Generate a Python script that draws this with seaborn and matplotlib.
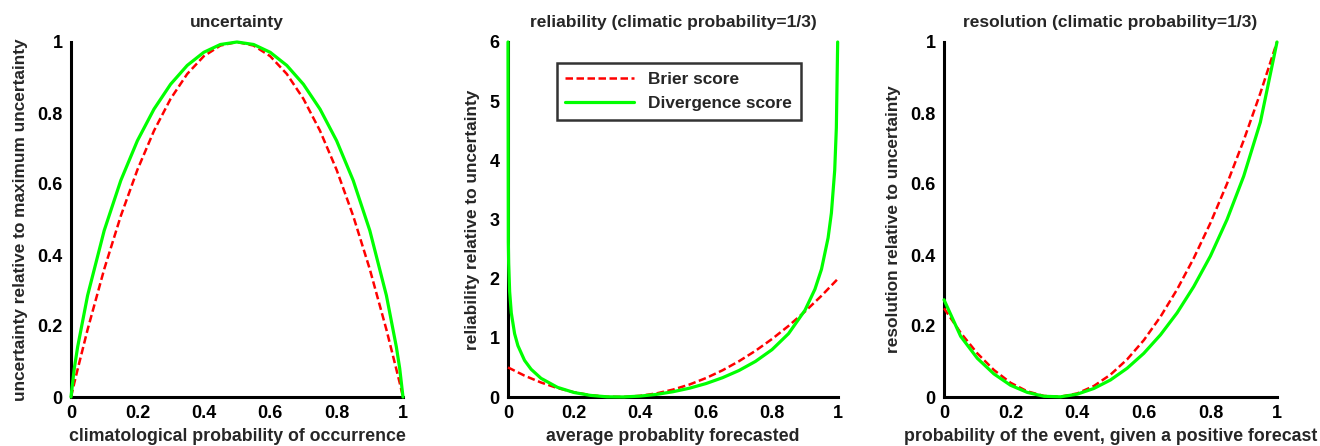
import numpy as np
import pandas as pd
import matplotlib
matplotlib.use('Agg')
import matplotlib.pyplot as plt
import seaborn as sns

# --- values ---
# panel 1: uncertainty
unc_x = [0, 0.01, 0.02, 0.05, 0.1, 0.15, 0.2, 0.25, 0.3, 0.35, 0.4, 0.45, 0.5,
         0.55, 0.6, 0.65, 0.7, 0.75, 0.8, 0.85, 0.9, 0.95, 0.98, 0.99, 1]
unc_brier = [0, 0.04, 0.078, 0.19, 0.36, 0.51, 0.64, 0.75, 0.84, 0.91, 0.96, 0.99, 1,
             0.99, 0.96, 0.91, 0.84, 0.75, 0.64, 0.51, 0.36, 0.19, 0.078, 0.04, 0]
unc_div = [0, 0.081, 0.141, 0.286, 0.469, 0.610, 0.722, 0.811, 0.881, 0.934, 0.971, 0.993, 1,
           0.993, 0.971, 0.934, 0.881, 0.811, 0.722, 0.610, 0.469, 0.286, 0.141, 0.081, 0]

# panel 2: reliability (climatic probability = 1/3)
rel_x_brier = [0, 0.05, 0.1, 0.15, 0.2, 0.25, 0.3, 0.35, 0.4, 0.45, 0.5,
               0.55, 0.6, 0.65, 0.7, 0.75, 0.8, 0.85, 0.9, 0.95, 1]
rel_brier = [0.5, 0.361, 0.245, 0.151, 0.08, 0.031, 0.005, 0.001, 0.02, 0.061, 0.125,
             0.211, 0.32, 0.451, 0.605, 0.781, 0.98, 1.201, 1.445, 1.711, 2.0]
rel_x_div = [0, 0.001, 0.002, 0.005, 0.01, 0.02, 0.03, 0.05, 0.07, 0.1, 0.15, 0.2, 0.25,
             0.3, 0.35, 0.4, 0.45, 0.5, 0.55, 0.6, 0.65, 0.7, 0.75, 0.8, 0.85, 0.9,
             0.93, 0.95, 0.97, 0.98, 0.99, 0.995, 0.999]
rel_div = [6.0, 2.62, 2.26, 1.78, 1.42, 1.07, 0.868, 0.62, 0.469, 0.316, 0.163, 0.076, 0.027,
           0.003, 0.001, 0.015, 0.044, 0.089, 0.149, 0.227, 0.326, 0.448, 0.602, 0.80, 1.07, 1.467,
           1.82, 2.16, 2.69, 3.11, 3.83, 4.55, 6.0]

# panel 3: resolution (climatic probability = 1/3)
res_x = [0, 0.05, 0.1, 0.15, 0.2, 0.25, 0.3, 0.35, 0.4, 0.45, 0.5,
         0.55, 0.6, 0.65, 0.7, 0.75, 0.8, 0.85, 0.9, 0.95, 1]
res_brier = [0.25, 0.181, 0.123, 0.076, 0.04, 0.016, 0.003, 0.001, 0.01, 0.031, 0.063,
             0.106, 0.16, 0.226, 0.303, 0.391, 0.49, 0.601, 0.723, 0.856, 1.0]
res_div = [0.274, 0.171, 0.109, 0.065, 0.033, 0.013, 0.002, 0.0005, 0.008, 0.024, 0.048,
           0.081, 0.123, 0.175, 0.237, 0.311, 0.397, 0.500, 0.622, 0.774, 1.0]

titles = ['uncertainty', 'reliability (climatic probability=1/3)',
          'resolution (climatic probability=1/3)']
xlabels = ['climatological probability of occurrence', 'average probablity forecasted',
           'probability of the event, given a positive forecast']
ylabels = ['uncertainty relative to maximum uncertainty', 'reliability relative to uncertainty',
           'resolution relative to uncertainty']
prob_ticks = [0, 0.2, 0.4, 0.6, 0.8, 1]
prob_labels = ['0', '0.2', '0.4', '0.6', '0.8', '1']
rel_ticks = [0, 1, 2, 3, 4, 5, 6]
rel_labels = ['0', '1', '2', '3', '4', '5', '6']
legend_labels = ['Brier score', 'Divergence score']

sns.set_style('white')
plt.rcParams['font.family'] = ['Liberation Sans', 'DejaVu Sans']
plt.rcParams['font.weight'] = 'bold'
plt.rcParams['axes.labelweight'] = 'bold'
plt.rcParams['axes.titleweight'] = 'bold'

fig = plt.figure(figsize=(13.2, 4.46), dpi=100)
lefts = [71 / 1320, 508 / 1320, 944 / 1320]
widths = [332 / 1320, 330 / 1320, 333 / 1320]
bottom = 1 - 397 / 446
height = (397 - 42) / 446
axes = [fig.add_axes([l, bottom, w, height]) for l, w in zip(lefts, widths)]

red_kw = dict(color='#ff0000', linewidth=1.8, dashes=(3, 1.4), zorder=3)
green_kw = dict(color='#00ff00', linewidth=2.3, zorder=4)

data = [
    (unc_x, unc_brier, unc_x, unc_div),
    (rel_x_brier, rel_brier, rel_x_div, rel_div),
    (res_x, res_brier, res_x, res_div),
]

for i, ax in enumerate(axes):
    xb, yb, xd, yd = data[i]
    sns.lineplot(x=xb, y=yb, ax=ax, sort=False, estimator=None, label=legend_labels[0], **red_kw)
    sns.lineplot(x=xd, y=yd, ax=ax, sort=False, estimator=None, label=legend_labels[1], **green_kw)
    for ln in ax.lines:
        ln.set_clip_on(False)
    ax.set_xlim(0, 1)
    ax.set_xticks(prob_ticks)
    ax.set_xticklabels(prob_labels)
    if i == 1:
        ax.set_ylim(0, 6)
        ax.set_yticks(rel_ticks)
        ax.set_yticklabels(rel_labels)
    else:
        ax.set_ylim(0, 1)
        ax.set_yticks(prob_ticks)
        ax.set_yticklabels(prob_labels)
    ax.set_title(titles[i], fontsize=12.5, pad=11)
    ax.set_xlabel(xlabels[i], fontsize=12.8, labelpad=4)
    ax.set_ylabel(ylabels[i], fontsize=12.4, labelpad=7)
    for s in ['top', 'right']:
        ax.spines[s].set_visible(False)
    for s in ['left', 'bottom']:
        ax.spines[s].set_linewidth(2.2)
        ax.spines[s].set_color('black')
        ax.spines[s].set_zorder(2)
    ax.tick_params(direction='in', length=4, width=2, labelsize=13, colors='black', pad=6)
    for lbl in ax.get_xticklabels() + ax.get_yticklabels():
        lbl.set_fontweight('bold')
    if i == 1:
        leg = ax.legend(loc='upper left', bbox_to_anchor=(0.148, 0.94), fontsize=12.4,
                        handlelength=4.0, frameon=True, fancybox=False, borderpad=0.5,
                        labelspacing=0.55, borderaxespad=0)
        leg.get_frame().set_edgecolor('black')
        leg.get_frame().set_linewidth(1.8)
        for t in leg.get_texts():
            t.set_fontweight('bold')
    else:
        ax.get_legend().remove()

fig.savefig('out.png', dpi=100)
